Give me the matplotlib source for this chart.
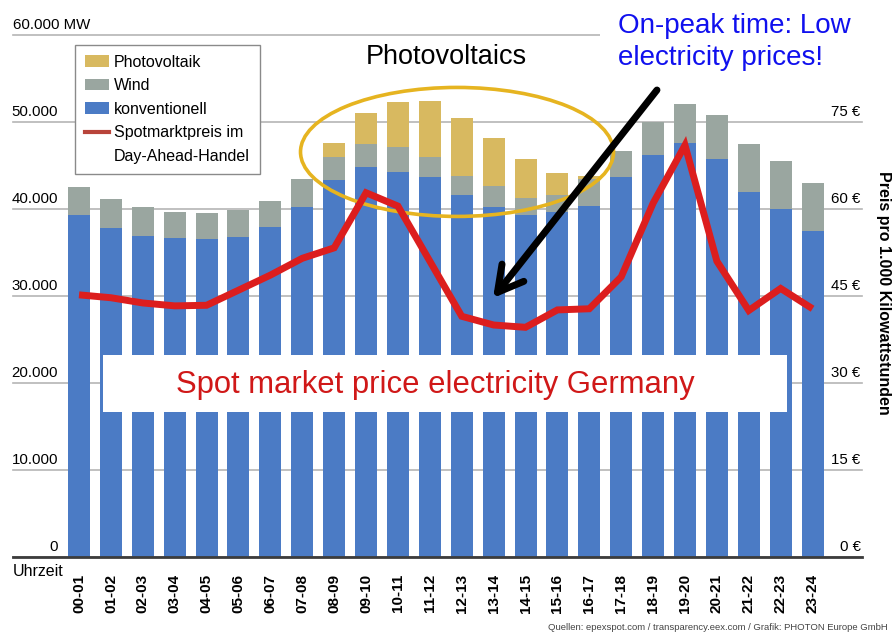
import numpy as np
import matplotlib
matplotlib.use('Agg')
import matplotlib.pyplot as plt
from matplotlib.patches import Ellipse, Rectangle, Patch
from matplotlib.lines import Line2D

plt.rcParams['font.family'] = ['Liberation Sans', 'DejaVu Sans']

# Uhrzeit-Kategorien
hours = ['00-01', '01-02', '02-03', '03-04', '04-05', '05-06', '06-07', '07-08',
         '08-09', '09-10', '10-11', '11-12', '12-13', '13-14', '14-15', '15-16',
         '16-17', '17-18', '18-19', '19-20', '20-21', '21-22', '22-23', '23-24']

# Erzeugung in MW (gestapelt)
konventionell = [39300, 37800, 36900, 36700, 36550, 36800, 37900, 40200,
                 43300, 44800, 44250, 43700, 41600, 40200, 39300, 39650,
                 40300, 43700, 46200, 47600, 45750, 41950, 40000, 37450]
wind = [3200, 3350, 3330, 2950, 2990, 3080, 3020, 3250,
        2680, 2670, 2880, 2250, 2250, 2440, 1960, 1960,
        3200, 2970, 3800, 4470, 5050, 5520, 5520, 5540]
photovoltaik = [0, 0, 0, 0, 0, 0, 0, 0,
                1610, 3560, 5170, 6430, 6610, 5520, 4490, 2530,
                300, 0, 0, 0, 0, 0, 0, 0]

# Spotmarktpreis in EUR pro MWh
spotpreis = [45.2, 44.7, 43.8, 43.3, 43.4, 46.0, 48.6, 51.5,
             53.3, 62.8, 60.5, 51.0, 41.5, 40.0, 39.6, 42.6,
             42.8, 48.3, 61.0, 71.0, 51.0, 42.5, 46.3, 42.8]

mw_ticks = [0, 10000, 20000, 30000, 40000, 50000, 60000]
mw_labels = ['0', '10.000', '20.000', '30.000', '40.000', '50.000', '60.000 MW']
eur_ticks = [0, 15, 30, 45, 60, 75]
eur_labels = ['0 €', '15 €', '30 €', '45 €', '60 €', '75 €']

BLUE = '#4b7bc5'
GRAY = '#9aa6a0'
GOLD = '#d8b960'
RED = '#dc1e1e'

W, H = 893, 637
fig = plt.figure(figsize=(W / 100, H / 100), dpi=100)
ax = fig.add_axes([13 / W, 80 / H, 849 / W, 522 / H])

x = np.arange(len(hours))
konv = np.array(konventionell)
wnd = np.array(wind)
pv = np.array(photovoltaik)
ax.bar(x, konv, width=0.69, color=BLUE, zorder=2)
ax.bar(x, wnd, width=0.69, bottom=konv, color=GRAY, zorder=2)
ax.bar(x, pv, width=0.69, bottom=konv + wnd, color=GOLD, zorder=2)

ax.set_xlim(-2.07, 24.55)
ax.set_ylim(0, 60000)
ax.set_yticks(mw_ticks)
ax.tick_params(axis='y', length=0, labelleft=False)
ax.grid(axis='y', color='#b5b5b5', lw=1.2)
ax.set_axisbelow(True)
for gl in ax.get_ygridlines():
    gl.set_clip_on(False)
for s in ['top', 'left', 'right']:
    ax.spines[s].set_visible(False)
ax.spines['bottom'].set_color('#3c3c3c')
ax.spines['bottom'].set_linewidth(2)
ax.set_xticks(x)
ax.set_xticklabels(hours, rotation=90, fontweight='bold', fontsize=11)
ax.tick_params(axis='x', length=0, pad=12)

for v, lbl in zip(mw_ticks, mw_labels):
    if lbl.endswith('MW'):
        ax.annotate(lbl, xy=(0, v), xycoords=('axes fraction', 'data'), xytext=(0, 2),
                    textcoords='offset points', ha='left', va='bottom', fontsize=10.8)
    else:
        ax.annotate(lbl, xy=(45 / 849, v), xycoords=('axes fraction', 'data'), xytext=(0, 2),
                    textcoords='offset points', ha='right', va='bottom', fontsize=10.8)

# weisser Kasten mit Beschriftung
ax.add_patch(Rectangle((0.106, 0.2778), 0.8057, 0.1092, transform=ax.transAxes,
                       fc='white', ec='none', zorder=4))
ax.add_patch(Ellipse((0.523, 0.776), 0.3687, 0.2471, transform=ax.transAxes,
                     fill=False, ec='#e6b420', lw=2.6, zorder=5))

handles = [Patch(fc=GOLD, ec='none'), Patch(fc=GRAY, ec='none'), Patch(fc=BLUE, ec='none'),
           Line2D([], [], color='#b8443a', lw=3), Line2D([], [], color='none')]
labels = ['Photovoltaik', 'Wind', 'konventionell', 'Spotmarktpreis im', 'Day-Ahead-Handel']
leg = ax.legend(handles, labels, loc='upper left', bbox_to_anchor=(62 / 849, 1 - 10 / 522),
                borderaxespad=0, frameon=True, fancybox=False, edgecolor='#8a8a8a',
                fontsize=11.5, handlelength=1.5, handleheight=0.75, handletextpad=0.35,
                labelspacing=0.54, borderpad=0.6, framealpha=1)
leg.get_frame().set_linewidth(1.0)
leg.set_zorder(10)

# Preisachse
ax2 = ax.twinx()
ax2.set_ylim(0, 90)
ax2.set_yticks([])
for s in ax2.spines.values():
    s.set_visible(False)
ax2.plot(x, spotpreis, color=RED, lw=5, solid_joinstyle='miter', solid_capstyle='butt', zorder=3)
for v, lbl in zip(eur_ticks, eur_labels):
    ax2.annotate(lbl, xy=(1, v), xycoords=('axes fraction', 'data'), xytext=(-1, 2),
                 textcoords='offset points', ha='right', va='bottom', fontsize=10.8)

ax2.annotate('', xy=(0.5654, 0.4962), xytext=(0.7585, 0.8946), xycoords='axes fraction',
             arrowprops=dict(arrowstyle='->,head_length=0.9,head_width=0.5', lw=5,
                             color='black', mutation_scale=20, shrinkA=0, shrinkB=0))

fig.text(13 / W, 1 - 571 / H, 'Uhrzeit', ha='left', va='center', fontsize=11.5)
fig.text(884 / W, 1 - 293 / H, 'Preis pro 1.000 Kilowattstunden', rotation=-90,
         ha='center', va='center', fontweight='bold', fontsize=11.5)
fig.text(435 / W, 1 - 393 / H, 'Spot market price electricity Germany', ha='center',
         va='baseline', color='#d01818', fontsize=22.3, zorder=6)
fig.text(446 / W, 1 - 57 / H, 'Photovoltaics', ha='center', va='center', fontsize=19.5)
fig.text(618 / W, 1 - 33 / H, 'On-peak time: Low', ha='left', va='baseline', color='#1010ee',
         fontsize=20, bbox=dict(boxstyle='square,pad=0.65', fc='white', ec='none'))
fig.text(618 / W, 1 - 65 / H, 'electricity prices!', ha='left', va='baseline', color='#1010ee',
         fontsize=20)
fig.text(548 / W, 1 - 628 / H,
         'Quellen: epexspot.com / transparency.eex.com / Grafik: PHOTON Europe GmbH',
         ha='left', va='center', fontsize=6.8, color='#444444')

fig.savefig('out.png', dpi=100)
